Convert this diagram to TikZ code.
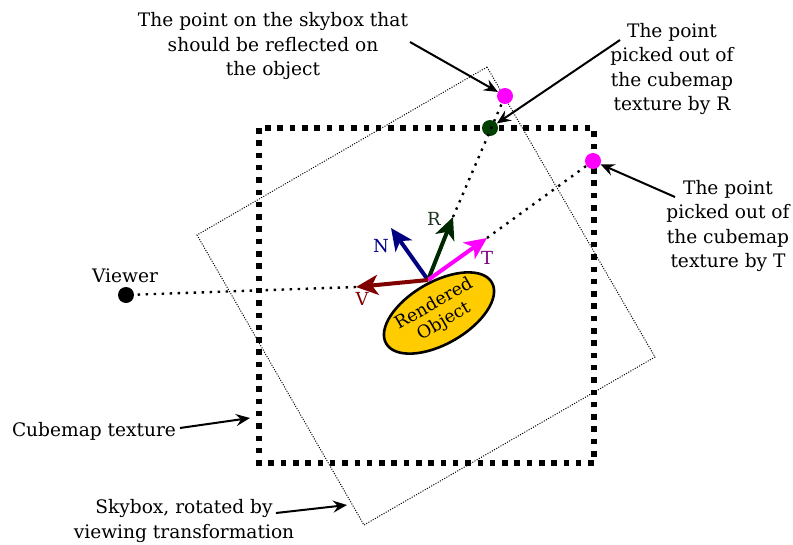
\documentclass[tikz,border=0pt]{standalone}
\usepackage{fontspec}
\setmainfont{DejaVu Serif}
\usepackage{tikz}
\usetikzlibrary{shapes.geometric, arrows.meta, positioning, calc}
\definecolor{vecnavy}{RGB}{0,0,128}
\definecolor{vecgreen}{RGB}{0,40,0}
\definecolor{ptgreen}{RGB}{0,64,0}
\definecolor{rlabel}{RGB}{30,50,30}
\definecolor{vecmag}{RGB}{255,0,255}
\definecolor{tlabel}{RGB}{128,0,128}
\definecolor{vecred}{RGB}{128,0,0}
\definecolor{objgold}{RGB}{255,204,0}
\tikzset{
  vec/.style={-{Stealth[length=22pt,width=20pt,inset=6pt]}, line width=4pt},
  note/.style={-{Stealth[length=14pt,width=12pt,inset=5pt]}, line width=2pt},
  spot/.style={circle, inner sep=0pt, minimum size=16pt},
  dotline/.style={line width=2.4pt, dash pattern=on 2.4pt off 5.6pt},
  cubeline/.style={line width=5.5pt, dash pattern=on 5.5pt off 6.8pt},
  skyline/.style={line width=1pt, dash pattern=on 1pt off 1.5pt},
  txt/.style={font=\fontsize{18.6}{24.2}\selectfont, align=center, inner sep=0pt},
  veclbl/.style={font=\fontsize{18}{20}\selectfont, inner sep=0pt}
}
\begin{document}
\begin{tikzpicture}[x=1pt, y=-1pt]
  \useasboundingbox (0,0) rectangle (793,544);

  % skybox (rotated) and cubemap
  \coordinate (s1) at (487,67);
  \coordinate (s2) at (655,357);
  \coordinate (s3) at (364,525);
  \coordinate (s4) at (197,235);
  \draw[skyline] (s1) -- (s2) -- (s3) -- (s4) -- cycle;
  \draw[cubeline] (259,128) rectangle (594,463);

  % points
  \node[spot, fill=vecmag] (pSky) at (505,96) {};
  \node[spot, fill=ptgreen] (pR) at (490,128) {};
  \node[spot, fill=vecmag] (pT) at (593,161) {};
  \node[spot, fill=black] (viewer) at (126,295) {};

  % vectors
  \coordinate (o) at (428,280);
  \coordinate (tipN) at (391,228);
  \coordinate (tipR) at (453,217);
  \coordinate (tipT) at (487,238);
  \coordinate (tipV) at (356,287);

  \draw[dotline] (tipR) -- (pSky);
  \draw[dotline] (tipT) -- (pT);
  \draw[dotline] (tipV) -- (viewer);

  \draw[vec, vecnavy] (o) -- (tipN);
  \draw[vec, vecgreen] (o) -- (tipR);
  \draw[vec, vecmag] (o) -- (tipT);
  \draw[vec, vecred] (o) -- (tipV);

  \node[ellipse, draw=black, fill=objgold, line width=2.6pt, minimum width=114pt,
    minimum height=62pt, inner sep=0pt, rotate=30, align=center,
    font=\fontsize{17.5}{20}\selectfont] (obj) at (439,313) {Rendered\\Object};

  \node[veclbl, text=vecnavy] (lblN) at (381,246) {N};
  \node[veclbl, text=rlabel] (lblR) at (434,219) {R};
  \node[veclbl, text=tlabel] (lblT) at (487,258) {T};
  \node[veclbl, text=vecred] (lblV) at (362,299) {V};

  % annotations
  \node[txt] (skyTxt) at (273,46) {The point on the skybox that\\should be reflected on\\the object};
  \node[txt] (rTxt) at (672,69) {The point\\picked out of\\the cubemap\\texture by R};
  \node[txt] (tTxt) at (728,226) {The point\\picked out of\\the cubemap\\texture by T};
  \node[txt] (viewerTxt) at (125,276) {Viewer};
  \node[txt] (cubeTxt) at (94,431) {Cubemap texture};
  \node[txt] (skyboxTxt) at (184,521) {Skybox, rotated by\\viewing transformation};

  \coordinate (aSky) at (410,42);
  \coordinate (aR) at (620,40);
  \coordinate (aT) at (675,197);
  \coordinate (aCube) at (180,428);
  \coordinate (eCube) at (250,418);
  \coordinate (aBox) at (276,513);
  \coordinate (eBox) at (347,505);

  \draw[note] (aSky) -- (pSky);
  \draw[note] (aR) -- (pR);
  \draw[note] (aT) -- (pT);
  \draw[note] (aCube) -- (eCube);
  \draw[note] (aBox) -- (eBox);
\end{tikzpicture}
\end{document}
